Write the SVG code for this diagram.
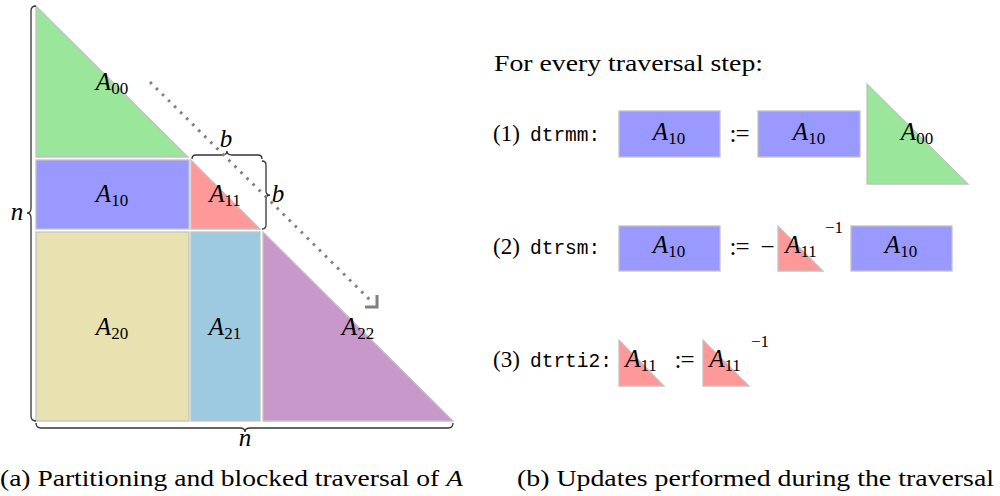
<svg xmlns="http://www.w3.org/2000/svg" width="1000" height="496" viewBox="0 0 1000 496">
<defs>
<style>
.blk{stroke:#c2c2c2;stroke-width:1.3}
.g{fill:#9ae69a}.b{fill:#9999ff}.r{fill:#ff9999}.y{fill:#e8e2b0}.lb{fill:#9ecae1}.p{fill:#c898cb}
.m{font-family:'Liberation Serif','DejaVu Serif',serif;font-style:italic;font-size:25px;fill:#000}
.sub{font-style:normal;font-size:17px}
.t{font-family:'Liberation Serif','DejaVu Serif',serif;font-size:23px;fill:#000}
.tt{font-family:'Liberation Mono','DejaVu Sans Mono',monospace;font-size:19.5px;fill:#000}
.sup{font-family:'Liberation Serif','DejaVu Serif',serif;font-size:17px;fill:#000}
.op{font-family:'Liberation Serif','DejaVu Serif',serif;font-size:25px;fill:#000;letter-spacing:-1px}
.brace{fill:none;stroke:#333;stroke-width:1.3}
</style>
</defs>
<rect width="1000" height="496" fill="#fff"/>

<!-- left partition -->
<g id="A00"><polygon class="blk g" points="36,6 36,157 188,157"/><text class="m" x="112" y="90" text-anchor="middle">A<tspan class="sub" dy="4">00</tspan></text></g>
<g id="A10"><rect class="blk b" x="36" y="160" width="153" height="69"/><text class="m" x="112" y="202" text-anchor="middle">A<tspan class="sub" dy="4">10</tspan></text></g>
<g id="A11"><polygon class="blk r" points="191,160 191,229 260,229"/><text class="m" x="225" y="202" text-anchor="middle">A<tspan class="sub" dy="4">11</tspan></text></g>
<g id="A20"><rect class="blk y" x="36" y="232" width="153" height="189"/><text class="m" x="112" y="335" text-anchor="middle">A<tspan class="sub" dy="4">20</tspan></text></g>
<g id="A21"><rect class="blk lb" x="191" y="232" width="69" height="189"/><text class="m" x="225" y="335" text-anchor="middle">A<tspan class="sub" dy="4">21</tspan></text></g>
<g id="A22"><polygon class="blk p" points="263,232 263,421 453,421"/><text class="m" x="358" y="335" text-anchor="middle">A<tspan class="sub" dy="4">22</tspan></text></g>

<g id="braces">
<path class="brace" d="M36,6 Q31,6 31,11 L31,208 Q31,213 27,213 Q31,213 31,218 L31,416 Q31,421 36,421"/>
<text class="m" x="17" y="220" text-anchor="middle" font-size="24">n</text>
<path class="brace" d="M36,423 Q36,428 41,428 L240,428 Q245,428 245,432 Q245,428 250,428 L448,428 Q453,428 453,423"/>
<text class="m" x="245" y="446" text-anchor="middle">n</text>
<path class="brace" d="M192,159 Q192,155 196,155 L222,155 Q227,155 227,151 Q227,155 232,155 L258,155 Q262,155 262,159"/>
<text class="m" x="226" y="147" text-anchor="middle">b</text>
<path class="brace" d="M262,161 Q266,161 266,165 L266,191 Q266,195 270,195 Q266,195 266,199 L266,225 Q266,229 262,229"/>
<text class="m" x="278" y="202" text-anchor="middle">b</text>
</g>

<g id="connectors">
<line x1="150" y1="82" x2="373" y2="303" stroke="#808080" stroke-width="3" stroke-dasharray="2.6 5.9"/>
<path d="M365,307 L377,307 L377,295" fill="none" stroke="#808080" stroke-width="3" stroke-linejoin="miter"/>
</g>

<text class="t" x="0" y="486" textLength="463" lengthAdjust="spacingAndGlyphs">(a) Partitioning and blocked traversal of <tspan font-style="italic">A</tspan></text>

<!-- right side -->
<text class="t" x="494" y="71" textLength="269" lengthAdjust="spacingAndGlyphs">For every traversal step:</text>

<g id="step1">
<text class="t" x="493" y="141">(1)</text><text class="tt" x="530" y="141">dtrmm:</text>
<rect class="blk b" x="619" y="111" width="101" height="46"/><text class="m" x="669" y="140" text-anchor="middle">A<tspan class="sub" dy="4">10</tspan></text>
<text class="op" x="739" y="142" text-anchor="middle">:=</text>
<rect class="blk b" x="758" y="111" width="102" height="46"/><text class="m" x="809" y="140" text-anchor="middle">A<tspan class="sub" dy="4">10</tspan></text>
<polygon class="blk g" points="867,84 867,184 968,184"/><text class="m" x="917" y="140" text-anchor="middle">A<tspan class="sub" dy="4">00</tspan></text>
</g>

<g id="step2">
<text class="t" x="493" y="254">(2)</text><text class="tt" x="530" y="254">dtrsm:</text>
<rect class="blk b" x="619" y="226" width="101" height="45"/><text class="m" x="669" y="253" text-anchor="middle">A<tspan class="sub" dy="4">10</tspan></text>
<text class="op" x="739" y="255" text-anchor="middle">:=</text>
<text class="op" x="767" y="255" text-anchor="middle">−</text>
<polygon class="blk r" points="778,226 778,271 823,271"/><text class="m" x="801" y="253" text-anchor="middle">A<tspan class="sub" dy="4">11</tspan></text>
<text class="sup" x="825" y="233">−1</text>
<rect class="blk b" x="851" y="226" width="101" height="45"/><text class="m" x="901" y="253" text-anchor="middle">A<tspan class="sub" dy="4">10</tspan></text>
</g>

<g id="step3">
<text class="t" x="493" y="367">(3)</text><text class="tt" x="530" y="367">dtrti2:</text>
<polygon class="blk r" points="619,340 619,386 664,386"/><text class="m" x="641" y="367" text-anchor="middle">A<tspan class="sub" dy="4">11</tspan></text>
<text class="op" x="684" y="368" text-anchor="middle">:=</text>
<polygon class="blk r" points="703,340 703,386 749,386"/><text class="m" x="725" y="367" text-anchor="middle">A<tspan class="sub" dy="4">11</tspan></text>
<text class="sup" x="751" y="347">−1</text>
</g>

<text class="t" x="517" y="486" textLength="477" lengthAdjust="spacingAndGlyphs">(b) Updates performed during the traversal</text>
</svg>
